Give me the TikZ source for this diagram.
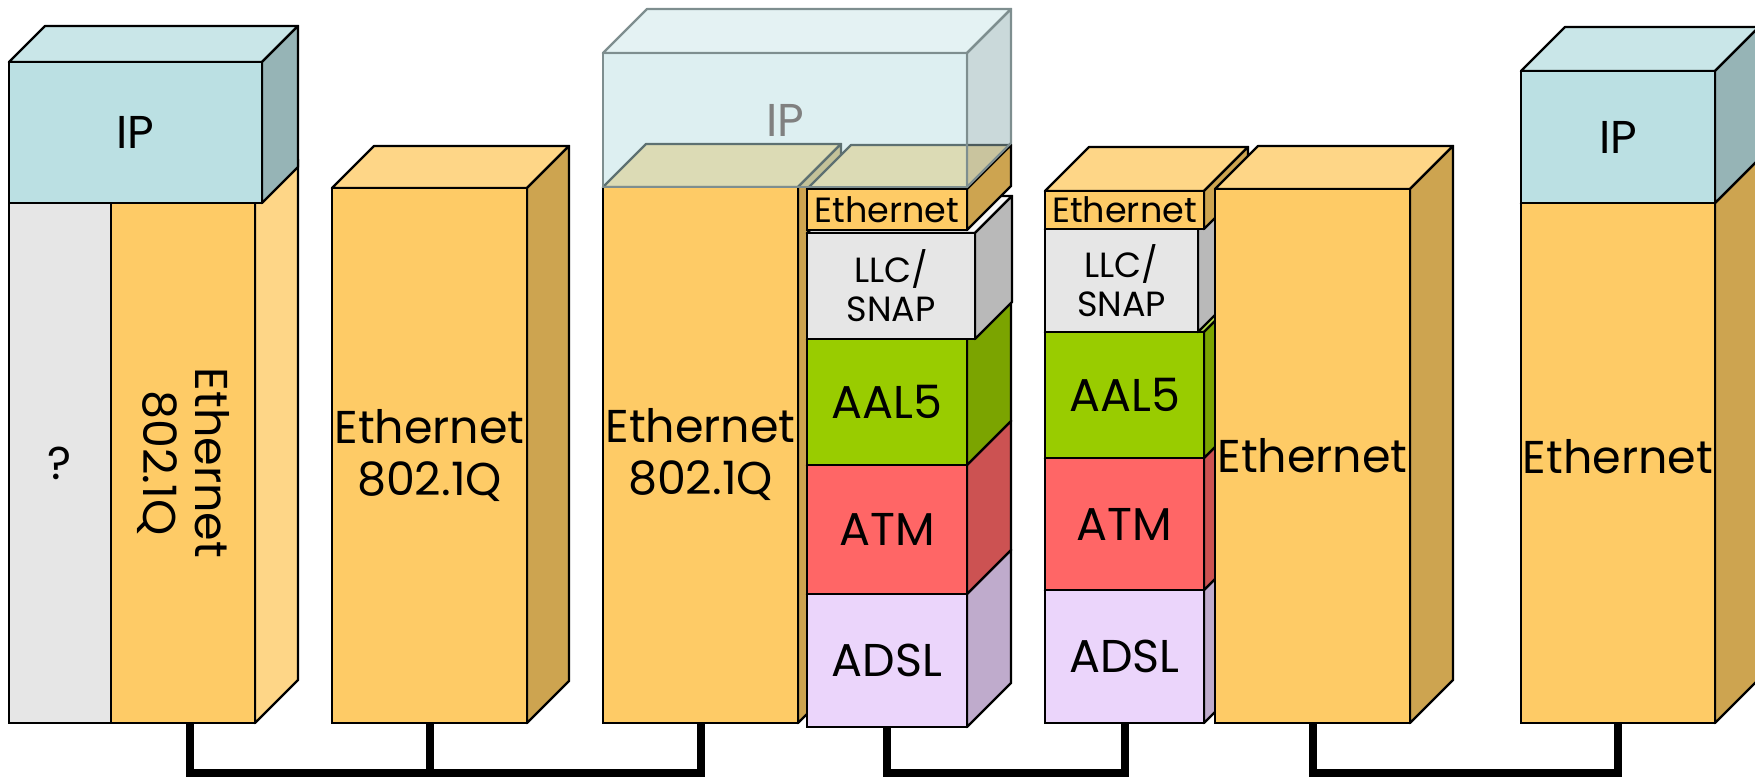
\documentclass[tikz,border=0pt]{standalone}
\usepackage{fontspec}
\setmainfont{Poppins}
\usetikzlibrary{calc}
\definecolor{ipF}{HTML}{BBE0E3}
\definecolor{ipT}{HTML}{C9E6E8}
\definecolor{ipS}{HTML}{96B4B6}
\definecolor{orF}{HTML}{FECB66}
\definecolor{orT}{HTML}{FED687}
\definecolor{orS}{HTML}{CDA450}
\colorlet{orlF}{orF}\colorlet{orlT}{orT}\colorlet{orlS}{orT}
\definecolor{qF}{HTML}{E6E6E6}
\definecolor{llcF}{HTML}{E6E6E6}
\definecolor{llcT}{HTML}{F7F7F7}
\definecolor{llcS}{HTML}{B9B9B9}
\definecolor{aalF}{HTML}{99CC00}
\definecolor{aalT}{HTML}{B5DB4D}
\definecolor{aalS}{HTML}{7BA400}
\definecolor{atmF}{HTML}{FF6666}
\definecolor{atmT}{HTML}{FF8C8C}
\definecolor{atmS}{HTML}{CC5252}
\definecolor{adslF}{HTML}{EBD5FB}
\definecolor{adslT}{HTML}{F1E2FC}
\definecolor{adslS}{HTML}{BFABCC}
\definecolor{ghostE}{HTML}{7E8E8F}
\newcommand{\fbig}{\fontsize{46}{52}\selectfont}
\newcommand{\fsml}{\fontsize{35}{39}\selectfont}
% #1 name, #2 x1, #3 y1, #4 x2, #5 y2, #6 depth, #7 colour prefix, #8 options, #9 text
\newcommand{\blockthreed}[9]{%
  \filldraw[fill=#7T, edge] (#2,#3) -- ++(#6,-#6) -- ({#4+#6},{#3-#6}) -- (#4,#3) -- cycle;
  \filldraw[fill=#7S, edge] (#4,#3) -- ({#4+#6},{#3-#6}) -- ({#4+#6},{#5-#6}) -- (#4,#5) -- cycle;
  \node[face, fill=#7F, minimum width={#4-#2}, minimum height={#5-#3}, #8] (#1) at (#2,#3) {#9};
}
\begin{document}
\begin{tikzpicture}[x=1pt,y=-1pt,
  edge/.style={draw=black, line width=2.4pt, line join=round},
  face/.style={draw=black, line width=2.4pt, inner sep=0pt, outer sep=0pt,
    anchor=north west, align=center, font=\fbig},
  wire/.style={line width=8pt, line join=miter}]
\useasboundingbox (0,0) rectangle (1755,781);
\clip (0,0) rectangle (1755,781);

% ---- host on the left
\node[face, fill=qF, minimum width=102, minimum height=520] (b1q) at (9,203) {};
\node[font=\fbig] at (b1q.center) {?};
\blockthreed{b1o}{111}{203}{255}{723}{43}{orl}{}{}
\node[rotate=-90, font=\fbig, align=center] at (b1o.center) {Ethernet\\802.1Q};
\blockthreed{b1ip}{9}{62}{262}{203}{36}{ip}{}{IP}

% ---- switch
\blockthreed{b2}{332}{188}{527}{723}{42}{or}{}{Ethernet\\802.1Q}

% ---- modem (802.1Q side)
\blockthreed{b3}{603}{187}{798}{723}{43}{or}{}{Ethernet\\802.1Q}

% ---- modem ADSL stack
\blockthreed{b4adsl}{807}{594}{967}{727}{44}{adsl}{}{ADSL}
\blockthreed{b4atm}{807}{465}{967}{594}{44}{atm}{}{ATM}
\blockthreed{b4aal}{807}{339}{967}{465}{44}{aal}{}{AAL5}
\blockthreed{b4llc}{807}{233}{975}{339}{37}{llc}{font=\fsml}{LLC/\\SNAP}
\blockthreed{b4eth}{807}{189}{967}{230}{44}{or}{font=\fsml}{Ethernet}

% ---- ghost IP layer
\begin{scope}[fill opacity=0.5]
  \filldraw[fill=ipT, draw=ghostE, line width=2.4pt, line join=round]
    (603,53) -- ++(44,-44) -- (1011,9) -- (967,53) -- cycle;
  \filldraw[fill=ipS, draw=ghostE, line width=2.4pt, line join=round]
    (967,53) -- (1011,9) -- (1011,143) -- (967,187) -- cycle;
  \node[face, fill=ipF, draw=ghostE, text=gray, text opacity=1,
    minimum width=364, minimum height=134] (ghost) at (603,53) {IP};
\end{scope}

% ---- second ADSL stack
\blockthreed{b5adsl}{1045}{590}{1204}{723}{44}{adsl}{}{ADSL}
\blockthreed{b5atm}{1045}{458}{1204}{590}{44}{atm}{}{ATM}
\blockthreed{b5aal}{1045}{332}{1204}{458}{44}{aal}{}{AAL5}
\blockthreed{b5llc}{1045}{229}{1198}{332}{44}{llc}{font=\fsml}{LLC/\\SNAP}
\blockthreed{b5eth}{1045}{191}{1204}{229}{44}{or}{font=\fsml}{Ethernet}

% ---- Ethernet side
\blockthreed{b6}{1215}{189}{1410}{723}{43}{or}{}{Ethernet}

% ---- host on the right
\blockthreed{b7eth}{1521}{203}{1715}{723}{44}{or}{}{}
\node[font=\fbig] at ([yshift=6pt]b7eth.center) {Ethernet};
\blockthreed{b7ip}{1521}{71}{1715}{203}{44}{ip}{}{IP}

% ---- links
\draw[wire] ([xshift=7pt]b1o.south) -- ++(0,50) -| (b3.south);
\draw[wire] (b2.south) -- ++(0,50);
\draw[wire] (b4adsl.south) -- ++(0,46) -| (b5adsl.south);
\draw[wire] (b6.south) -- ++(0,50) -| (b7eth.south);
\end{tikzpicture}
\end{document}
